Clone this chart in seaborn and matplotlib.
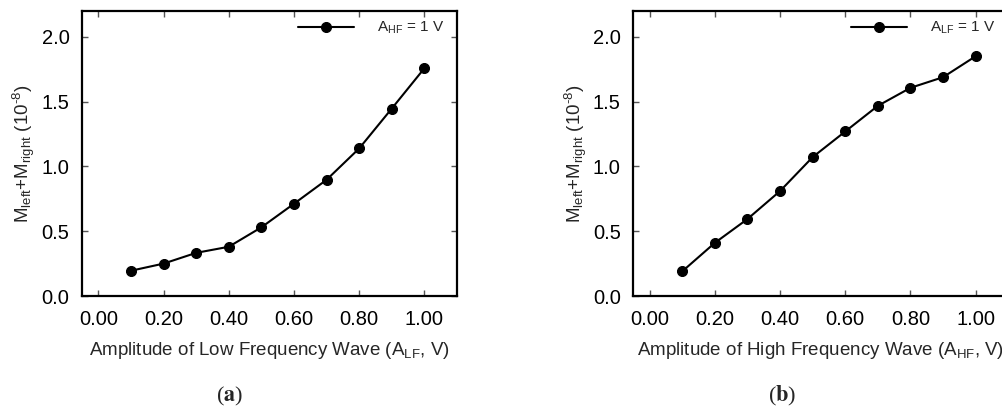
import matplotlib
matplotlib.use("Agg")
import matplotlib.pyplot as plt
import seaborn as sns
import pandas as pd
import numpy as np
from matplotlib.ticker import FormatStrFormatter

# ---- data ----
amp = [0.1, 0.2, 0.3, 0.4, 0.5, 0.6, 0.7, 0.8, 0.9, 1.0]
m_sum_lf = [0.195, 0.25, 0.333, 0.38, 0.53, 0.712, 0.897, 1.139, 1.447, 1.758]
m_sum_hf = [0.19, 0.41, 0.594, 0.81, 1.072, 1.27, 1.468, 1.607, 1.689, 1.851]
x_ticks = [0.0, 0.2, 0.4, 0.6, 0.8, 1.0]
y_ticks = [0.0, 0.5, 1.0, 1.5, 2.0]

sns.set_theme(style="ticks")
plt.rcParams["font.family"] = ["Liberation Sans", "DejaVu Sans"]
plt.rcParams["mathtext.fontset"] = "custom"
plt.rcParams["mathtext.rm"] = "Liberation Sans"
plt.rcParams["mathtext.it"] = "Liberation Sans:italic"
plt.rcParams["mathtext.bf"] = "Liberation Sans:bold"

fig = plt.figure(figsize=(10.02, 4.07), dpi=100)
W, H = 1002, 407
axA = fig.add_axes([82 / W, (H - 296) / H, 375 / W, 285 / H])
axB = fig.add_axes([633.3 / W, (H - 296) / H, 375 / W, 285 / H])

panels = [
    (axA, m_sum_lf, r"Amplitude of Low Frequency Wave (A$_{\rm LF}$, V)",
     r"A$_{\rm HF}$ = 1 V", r"($\mathbf{a}$)", 230),
    (axB, m_sum_hf, r"Amplitude of High Frequency Wave (A$_{\rm HF}$, V)",
     r"A$_{\rm LF}$ = 1 V", r"($\mathbf{b}$)", 782),
]

for ax, ys, xl, leg, cap, capx in panels:
    df = pd.DataFrame({"x": amp, "y": ys})
    sns.lineplot(data=df, x="x", y="y", ax=ax, color="black", marker="o",
                 markersize=7.2, linewidth=1.5, markeredgecolor="black",
                 label=leg)
    ax.set_xlim(-0.05, 1.10)
    ax.set_ylim(0, 2.2)
    ax.set_xticks(x_ticks)
    ax.set_yticks(y_ticks)
    ax.xaxis.set_major_formatter(FormatStrFormatter("%.2f"))
    ax.yaxis.set_major_formatter(FormatStrFormatter("%.1f"))
    ax.tick_params(direction="in", length=4, width=1, color="#555555",
                   labelsize=14.5, labelcolor="black", top=True, right=True)
    ax.tick_params(axis="x", pad=10)
    ax.tick_params(axis="y", pad=9)
    for s in ax.spines.values():
        s.set_visible(True)
        s.set_linewidth(1.6)
        s.set_color("black")
    ax.set_xlabel(xl, fontsize=13.5, labelpad=8)
    ax.set_ylabel(r"M$_{\rm left}$+M$_{\rm right}$ (10$^{\text{-8}}$)", fontsize=13.5, labelpad=3)
    ax.legend(loc="center right", bbox_to_anchor=(0.966, 0.94), frameon=False,
              fontsize=11, handlelength=3.7, handletextpad=1.5,
              borderpad=0, borderaxespad=0)
    ax.grid(False)
    fig.text(capx / W, (H - 396) / H, cap, ha="center", va="center",
             fontsize=16, family=["Liberation Serif", "DejaVu Serif"],
             math_fontfamily="stix")

fig.savefig("out.png", dpi=100, facecolor="white")
